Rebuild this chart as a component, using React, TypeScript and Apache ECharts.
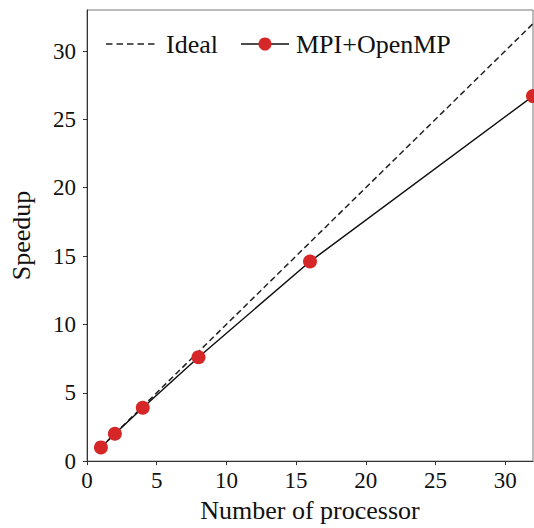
import React, { useEffect, useRef } from "react";
import * as echarts from "echarts";

const processors = [1, 2, 4, 8, 16, 32];
const idealSpeedup = [1, 2, 4, 8, 16, 32];
const hybridSpeedup = [1.0, 2.0, 3.9, 7.6, 14.6, 26.7];
const xTicks = [0, 5, 10, 15, 20, 25, 30];
const yTicks = [0, 5, 10, 15, 20, 25, 30];
const seriesNames = ["Ideal", "MPI+OpenMP"];

const FONT = "Liberation Serif";
const RED = "#d62728";
const INK = "#111";

export default function App() {
  const ref = useRef<HTMLDivElement>(null);
  useEffect(() => {
    if (!ref.current) return;
    const chart = echarts.init(ref.current, null, { renderer: "svg" });
    const ly = 44;
    chart.setOption({
      animation: false,
      backgroundColor: "#ffffff",
      textStyle: { fontFamily: FONT },
      grid: { left: 86, top: 10, right: 1, bottom: 61.5, show: true, borderColor: "#777", borderWidth: 1, backgroundColor: "transparent" },
      graphic: [
        {
          type: "line",
          shape: { x1: 106, y1: ly, x2: 155, y2: ly },
          style: { stroke: "#222", lineWidth: 1.5, lineDash: [6.5, 4] },
          z: 10,
        },
        {
          type: "text",
          x: 166,
          y: ly,
          style: { text: seriesNames[0], fontFamily: FONT, fontSize: 26, fill: INK, textVerticalAlign: "middle", textAlign: "left" },
          z: 10,
        },
        {
          type: "line",
          shape: { x1: 241, y1: ly, x2: 289, y2: ly },
          style: { stroke: INK, lineWidth: 1.5 },
          z: 10,
        },
        {
          type: "circle",
          shape: { cx: 265, cy: ly, r: 6.5 },
          style: { fill: RED },
          z: 11,
        },
        {
          type: "text",
          x: 296,
          y: ly,
          style: { text: seriesNames[1], fontFamily: FONT, fontSize: 26, fill: INK, textVerticalAlign: "middle", textAlign: "left" },
          z: 10,
        },
      ],
      xAxis: {
        type: "value",
        min: 0,
        max: 32,
        interval: 5,
        name: "Number of processor",
        nameLocation: "middle",
        nameGap: 31,
        nameTextStyle: { fontFamily: FONT, fontSize: 26, color: INK },
        axisLine: { show: true, onZero: false, lineStyle: { color: "#333", width: 1 } },
        axisTick: { show: true, length: 4, inside: false, customValues: xTicks, lineStyle: { color: "#333" } },
        axisLabel: { customValues: xTicks, fontFamily: FONT, fontSize: 23, color: INK, margin: 8 },
        splitLine: { show: false },
      },
      yAxis: {
        type: "value",
        min: 0,
        max: 33,
        interval: 5,
        name: "Speedup",
        nameLocation: "middle",
        nameGap: 53,
        nameRotate: 90,
        nameTextStyle: { fontFamily: FONT, fontSize: 26, color: INK },
        axisLine: { show: true, onZero: false, lineStyle: { color: "#333", width: 1 } },
        axisTick: { show: true, length: 4, inside: false, customValues: yTicks, lineStyle: { color: "#333" } },
        axisLabel: { customValues: yTicks, fontFamily: FONT, fontSize: 23, color: INK, margin: 11 },
        splitLine: { show: false },
      },
      series: [
        {
          name: seriesNames[0],
          type: "line",
          data: processors.map((p, i) => [p, idealSpeedup[i]]),
          showSymbol: false,
          symbol: "none",
          lineStyle: { color: "#222", width: 1.5, type: [6, 3.5] },
          itemStyle: { color: "#222" },
          z: 2,
        },
        {
          name: seriesNames[1],
          type: "line",
          data: processors.map((p, i) => [p, hybridSpeedup[i]]),
          symbol: "circle",
          symbolSize: 14,
          lineStyle: { color: INK, width: 1.5 },
          itemStyle: { color: RED },
          z: 3,
        },
      ],
    });
    return () => chart.dispose();
  }, []);
  return (
    <div
      ref={ref}
      style={{ position: "fixed", left: 0, top: 0, width: 534, height: 528 }}
    />
  );
}
